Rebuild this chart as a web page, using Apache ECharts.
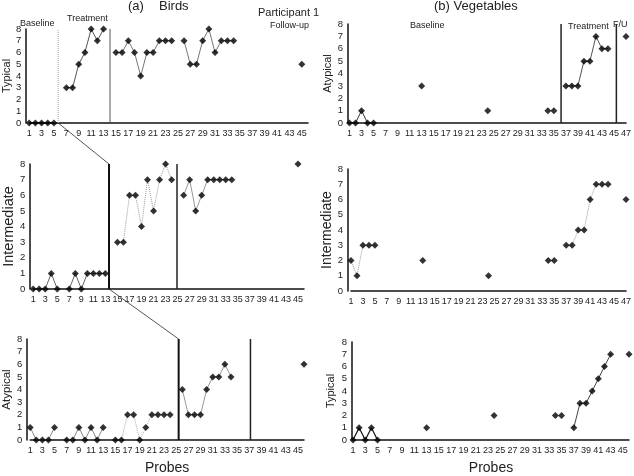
<!DOCTYPE html>
<html><head><meta charset="utf-8">
<script src="https://cdn.jsdelivr.net/npm/echarts@6/dist/echarts.min.js"></script>
<style>html,body{margin:0;padding:0;background:#fff}#c{width:634px;height:476px}</style>
</head><body><div id="c"></div>
<script>
// ---------- tick labels (probe numbers) ----------
const probes46 = ['1','2','3','4','5','6','7','8','9','10','11','12','13','14','15','16','17','18','19','20','21','22','23','24','25','26','27','28','29','30','31','32','33','34','35','36','37','38','39','40','41','42','43','44','45','46'];
const probes47 = probes46.concat(['47']);
const yTicks = [0,1,2,3,4,5,6,7,8];

// ---------- (a) Birds ----------
const birdsTypical = [0,0,0,0,0,null,3,3,5,6,8,7,8,null,6,6,7,6,4,6,6,7,7,7,null,7,5,5,7,8,6,7,7,7,null,null,null,null,null,null,null,null,null,null,5,null];
const birdsIntermediate = [0,0,0,1,0,null,0,1,0,1,1,1,1,null,3,3,6,6,4,7,5,7,8,7,null,6,7,5,6,7,7,7,7,7,null,null,null,null,null,null,null,null,null,null,8,null];
const birdsAtypical = [1,0,0,0,1,null,0,0,1,0,1,0,1,null,0,0,2,2,0,1,2,2,2,2,null,4,2,2,2,4,5,5,6,5,null,null,null,null,null,null,null,null,null,null,null,6];

// ---------- (b) Vegetables ----------
const vegAtypical = [0,0,1,0,0,null,null,null,null,null,null,null,3,null,null,null,null,null,null,null,null,null,null,1,null,null,null,null,null,null,null,null,null,1,1,null,3,3,3,5,5,7,6,6,null,null,7];
const vegIntermediate = [2,1,3,3,3,null,null,null,null,null,null,null,2,null,null,null,null,null,null,null,null,null,null,1,null,null,null,null,null,null,null,null,null,2,2,null,3,3,4,4,6,7,7,7,null,null,6];
const vegTypical = [0,1,0,1,0,null,null,null,null,null,null,null,1,null,null,null,null,null,null,null,null,null,null,2,null,null,null,null,null,null,null,null,null,2,2,null,1,3,3,4,5,6,7,null,null,7];

// connected probe ranges per panel
const segTL = [[1,5],[7,13],[15,24],[26,34]];
const segML = [[1,13],[15,24],[26,34]];
const segBL = [[1,13],[15,24],[26,34]];
const segTR = [[1,5],[37,44]];
const segMR = [[1,5],[37,44]];
const segBR = [[1,5],[37,43]];

// phase-change lines (probe position)
const phaseTL = [5.68, 14.05];
const phaseML = [13.6, 24.9];
const phaseBL = [25.4, 37.2];
const phaseTR = [36.2, 45.4];

const FONT = 'Liberation Sans, Arial, sans-serif';

const panels = [
  {vals: birdsTypical, cats: probes46, name:'Typical', grid:{left:29,top:29,width:279,height:94}, off:3, nameGap:13, nameSize:11, segs:segTL, phases:phaseTL, phaseStyles:[{color:'#aaa',width:1,type:'dotted'},{color:'#555',width:1}], segStyles:[{color:'#111',width:1.5},{color:'#555',width:1},{color:'#777',width:1},{color:'#777',width:1}]},
  {vals: birdsIntermediate, cats: probes46, name:'Intermediate', grid:{left:29,top:164,width:275,height:125}, off:3, nameGap:13, nameSize:14.5, segs:segML, phases:phaseML, phaseStyles:[{color:'#111',width:2},{color:'#222',width:1.5}], segStyles:[{color:'#666',width:1},{color:'#999',width:1,type:'dotted'},{color:'#999',width:1}]},
  {vals: birdsAtypical, cats: probes46, name:'Atypical', grid:{left:29,top:339,width:275,height:108}, off:3, nameGap:13, nameSize:11.5, segs:segBL, phases:phaseBL, phaseStyles:[{color:'#111',width:2},{color:'#222',width:1.5}], segStyles:[{color:'#888',width:1},{color:'#aaa',width:1,type:'dotted'},{color:'#999',width:1}], xName:'Probes'},
  {vals: vegAtypical, cats: probes47, name:'Atypical', grid:{left:349.5,top:24,width:277,height:99}, off:1.5, nameGap:11, nameSize:11, segs:segTR, phases:phaseTR, phaseStyles:[{color:'#222',width:1.5},{color:'#222',width:1.5}], segStyles:[{color:'#333',width:1},{color:'#555',width:1}]},
  {vals: vegIntermediate, cats: probes47, name:'Intermediate', grid:{left:351,top:169,width:277,height:122}, off:3, nameGap:10, nameSize:14, segs:segMR, phases:[], phaseStyles:[], segStyles:[{color:'#999',width:1,type:'dotted'},{color:'#999',width:1,type:'dotted'}]},
  {vals: vegTypical, cats: probes46, name:'Typical', grid:{left:353,top:342,width:276,height:104}, off:1, nameGap:16, nameSize:11, segs:segBR, phases:[], phaseStyles:[], segStyles:[{color:'#111',width:1.2},{color:'#444',width:1}], xName:'Probes'}
];

const grids=[], xAxes=[], yAxes=[], series=[];
panels.forEach((p,i)=>{
  grids.push(Object.assign({containLabel:false}, p.grid));
  xAxes.push({type:'category', gridIndex:i, data:p.cats, boundaryGap:false,
    axisLine:{lineStyle:{color:'#111',width:1.5}}, axisTick:{show:false},
    axisLabel:{interval:1, fontSize:9, color:'#222', margin:6, fontFamily:FONT},
    name:p.xName||'', nameLocation:'middle', nameGap:21,
    nameTextStyle:{fontSize:14, color:'#222', fontFamily:FONT}});
  yAxes.push({type:'value', gridIndex:i, min:0, max:8, interval:1, offset:p.off,
    axisLine:{show:true, lineStyle:{color:'#111',width:1.5}}, axisTick:{show:false}, splitLine:{show:false},
    axisLabel:{fontSize:9.5, color:'#222', margin:5, fontFamily:FONT},
    name:p.name, nameLocation:'middle', nameRotate:90, nameGap:p.nameGap,
    nameTextStyle:{fontSize:p.nameSize, color:'#222', fontFamily:FONT}});
});
// hidden value x-axes for phase lines
panels.forEach((p,i)=>{
  xAxes.push({type:'value', gridIndex:i, min:1, max:p.cats.length, show:false});
});

panels.forEach((p,i)=>{
  p.segs.forEach((s,k)=>{
    const d = p.vals.map((v,j)=> (j+1>=s[0] && j+1<=s[1] && v!==null) ? v : '-');
    series.push({type:'line', xAxisIndex:i, yAxisIndex:i, data:d, showSymbol:false, connectNulls:false,
      lineStyle:p.segStyles[k], silent:true, animation:false, z:2});
  });
  series.push({type:'scatter', xAxisIndex:i, yAxisIndex:i, symbol:'diamond', symbolSize:7,
    itemStyle:{color:'#000'}, data:p.vals.map(v=> v===null?'-':v), animation:false, z:3});
  p.phases.forEach((x,k)=>{
    series.push({type:'line', xAxisIndex:6+i, yAxisIndex:i, data:[[x,0],[x,8]], showSymbol:false,
      lineStyle:p.phaseStyles[k], animation:false, silent:true, z:1});
  });
});

const texts = [
  {text:'(a)', x:128, y:0, size:13},
  {text:'Birds', x:159, y:0, size:13},
  {text:'Participant 1', x:258, y:7, size:11},
  {text:'Follow-up', x:270, y:21, size:9},
  {text:'Baseline', x:20, y:19, size:9},
  {text:'Treatment', x:67, y:14, size:9},
  {text:'(b) Vegetables', x:434, y:0, size:13},
  {text:'Baseline', x:410, y:21, size:9},
  {text:'Treatment', x:568, y:22, size:9},
  {text:'F/U', x:613, y:20, size:9}
];

const chart = echarts.init(document.getElementById('c'), null, {renderer:'canvas'});
const textEls = texts.map(t=>({type:'text', left:t.x, top:t.y, style:{text:t.text, fontSize:t.size, fill:'#222', fontFamily:FONT}}));
chart.setOption({animation:false, backgroundColor:'#fff', grid:grids, xAxis:xAxes, yAxis:yAxes, series:series, graphic:textEls});

// connectors between panels (staircase of phase changes)
function px(panel, x, y){
  return [chart.convertToPixel({xAxisIndex:6+panel}, x), chart.convertToPixel({yAxisIndex:panel}, y)];
}
const c1a = px(0, phaseTL[0], 0), c1b = px(1, phaseML[0], 8);
const c2a = px(1, phaseML[0], 0), c2b = px(2, phaseBL[0], 8);
const conn = [
  {type:'line', shape:{x1:c1a[0],y1:c1a[1],x2:c1b[0],y2:c1b[1]}, style:{stroke:'#555',lineWidth:1}},
  {type:'line', shape:{x1:c2a[0],y1:c2a[1],x2:c2b[0],y2:c2b[1]}, style:{stroke:'#555',lineWidth:1}}
];
chart.setOption({graphic:textEls.concat(conn)});
</script></body></html>
